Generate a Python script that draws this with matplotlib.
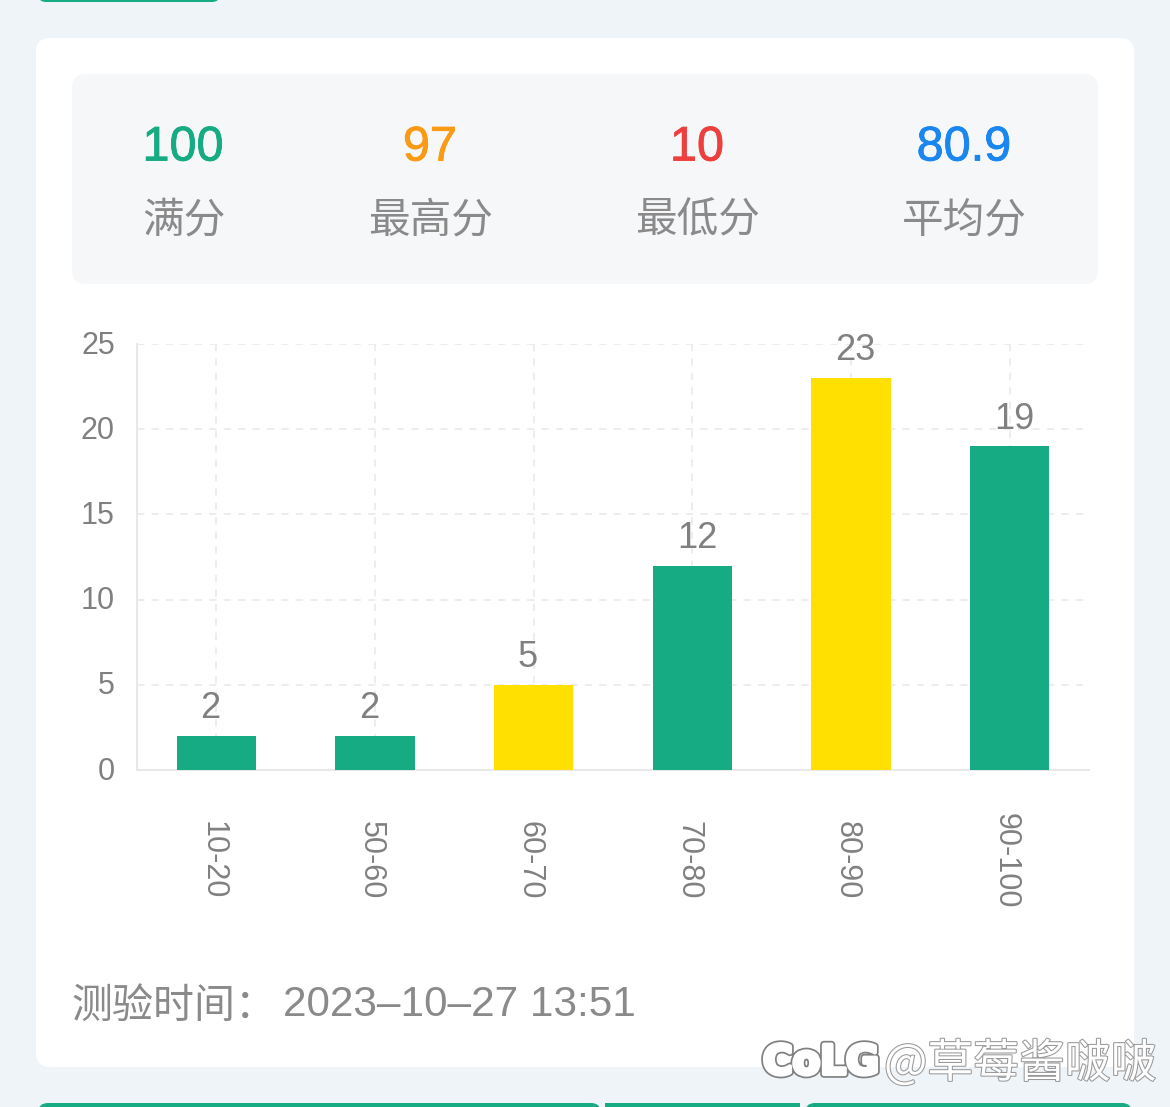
import matplotlib
matplotlib.use("Agg")
import matplotlib.pyplot as plt
import matplotlib.patheffects as pe
from matplotlib.patches import FancyBboxPatch, Rectangle
from matplotlib.transforms import ScaledTranslation

plt.rcParams['font.family'] = ['Noto Sans CJK SC', 'DejaVu Sans']

categories = ['10-20', '50-60', '60-70', '70-80', '80-90', '90-100']
counts = [2, 2, 5, 12, 23, 19]
bar_colors = ['#16ab83', '#16ab83', '#ffe000', '#16ab83', '#ffe000', '#16ab83']
yticks = [0, 5, 10, 15, 20, 25]

stat_values = ['100', '97', '10', '80.9']
stat_labels = ['满分', '最高分', '最低分', '平均分']
stat_colors = ['#16ab83', '#fb9a14', '#ee3f3f', '#1a86f0']
stat_x = [183, 430, 697, 964]

W, H = 1170, 1107
LATIN = 'Liberation Sans'
fig = plt.figure(figsize=(W / 100, H / 100), dpi=100, facecolor='#eff4f8')

# page layer in pixel coordinates
bg = fig.add_axes([0, 0, 1, 1])
bg.set_xlim(0, W)
bg.set_ylim(H, 0)
bg.axis('off')


def box(x0, y0, x1, y1, r, color, z=1):
    bg.add_patch(FancyBboxPatch((x0 + r, y0 + r), x1 - x0 - 2 * r, y1 - y0 - 2 * r,
                                boxstyle='round,pad=%d,rounding_size=%d' % (r, r),
                                fc=color, ec='none', zorder=z))


box(36, 38, 1134, 1067, 14, 'white')
box(72, 74, 1098, 284, 14, '#f5f7f9', 2)
box(38, -20, 220, 2, 8, '#16ab83')
box(38, 1103, 601, 1130, 10, '#16ab83')
bg.add_patch(Rectangle((605, 1103), 195, 10, fc='#16ab83', ec='none'))
box(805, 1103, 1132, 1130, 10, '#16ab83')

for x, v, lab, c in zip(stat_x, stat_values, stat_labels, stat_colors):
    t = bg.text(x, 148, v, color=c, fontsize=35, ha='center', va='center',
                family=LATIN, zorder=3)
    t.set_path_effects([pe.withStroke(linewidth=0.6, foreground=c)])
    bg.text(x + 0.5, 221, lab, color='#8a8a8a', fontsize=30, ha='center', va='center', zorder=3)

bg.text(71, 1006, '测验时间：', color='#8a8a8a', fontsize=29.5, ha='left', va='center')
bg.text(283, 1005, '2023–10–27 13:51', color='#8a8a8a', fontsize=30.4, ha='left', va='center',
        family=LATIN)

# watermark
bg.text(763, 1063, 'CoLG', color='white', fontsize=29, fontweight='bold', ha='left', va='center',
        family='DejaVu Sans', zorder=5,
        path_effects=[pe.Stroke(linewidth=5.5, foreground='#808080'),
                      pe.Stroke(linewidth=3, foreground='white'), pe.Normal()])
bg.text(884, 1064, '@草莓酱啵啵', color='white', fontsize=33, ha='left', va='center', zorder=5,
        path_effects=[pe.withStroke(linewidth=1.5, foreground='#999999')])

# chart
left, right, top, bottom = 137, 1089, 344, 770
ax = fig.add_axes([left / W, 1 - bottom / H, (right - left) / W, (bottom - top) / H])
ax.patch.set_alpha(0)
xpos = range(len(categories))
ax.bar(xpos, counts, width=0.5, color=bar_colors, zorder=3)
ax.set_xlim(-0.5, 5.5)
ax.set_ylim(0, 25)
ax.set_yticks(yticks)
ax.set_xticks(list(xpos))
ax.set_xticklabels(categories, rotation=270, color='#808080', fontsize=22, family=LATIN, va='center')
ax.tick_params(axis='x', length=0, pad=65)
ax.tick_params(axis='y', length=0, pad=16, labelsize=22, labelcolor='#808080')
for t in ax.get_yticklabels():
    t.set_family(LATIN)
    t.set_transform(t.get_transform() + ScaledTranslation(0, 2 / 100, fig.dpi_scale_trans))
for t in ax.get_xticklabels():
    t.set_transform(t.get_transform() + ScaledTranslation(-4 / 100, 0, fig.dpi_scale_trans))
ax.grid(True, color='#ececec', linestyle=(0, (4, 4)), linewidth=1.3, zorder=0)
for s in ['top', 'right']:
    ax.spines[s].set_visible(False)
for s in ['left', 'bottom']:
    ax.spines[s].set_color('#e8e8e8')
    ax.spines[s].set_linewidth(1.5)
for x, v in zip(xpos, counts):
    ax.annotate(str(v), (x, v), xytext=(-4.3 if v < 10 else 3.4, 7),
                textcoords='offset points', ha='center', va='bottom', color='#808080',
                fontsize=26, family=LATIN, zorder=4)

fig.savefig('out.png', dpi=100, facecolor=fig.get_facecolor())
